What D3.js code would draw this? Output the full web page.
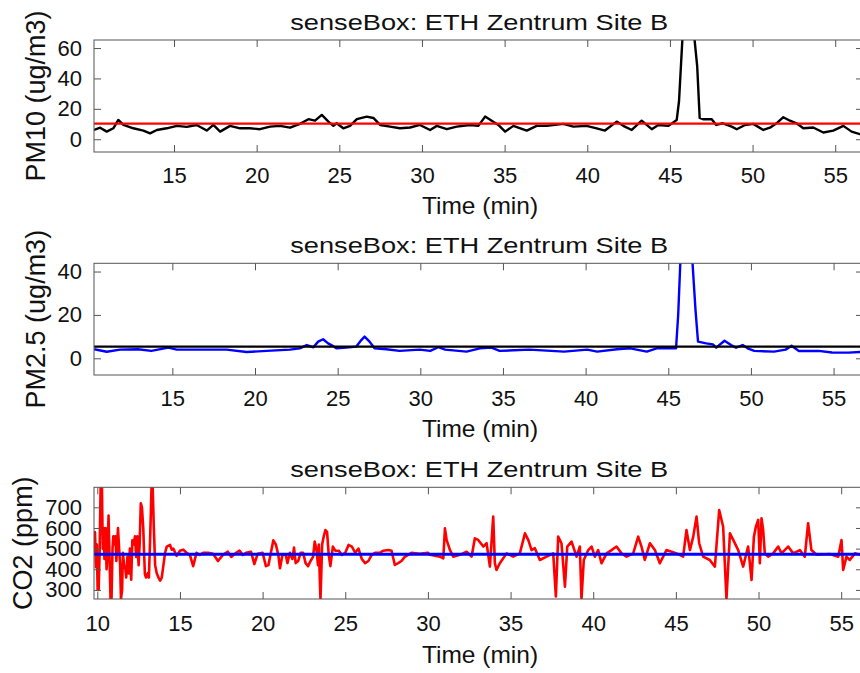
<!DOCTYPE html>
<html>
<head>
<meta charset="utf-8">
<script src="https://cdn.jsdelivr.net/npm/d3@7/dist/d3.min.js"></script>
<style>
  html, body { margin: 0; padding: 0; background: #fff; }
  svg { display: block; }
  text { font-family: Arial, "Liberation Sans", Helvetica, sans-serif; fill: #111; }
</style>
</head>
<body>
<svg id="chart" width="860" height="673"></svg>
<script>
// ---------------- DATA ----------------
const chartTitle = "senseBox: ETH Zentrum Site B";
const xLabel = "Time (min)";

// PM10 (ug/m3) — black line
const pm10Time = [10.16,10.53,10.93,11.33,11.63,11.94,12.54,13.15,13.55,13.96,14.56,15.17,15.77,16.37,16.98,17.38,17.79,18.39,19.0,19.6,20.2,20.81,21.41,22.02,22.62,23.13,23.53,23.94,24.34,24.64,24.84,25.24,25.65,26.06,26.66,27.06,27.47,28.07,28.67,29.28,29.88,30.49,30.9,31.5,32.1,32.91,33.41,33.82,34.22,34.62,35.03,35.53,36.34,36.94,37.55,38.55,39.16,39.96,40.57,41.07,41.78,42.18,42.69,43.29,43.9,44.3,44.91,45.41,45.55,45.8,46.1,46.45,46.65,46.8,47.0,47.53,47.8,48.2,48.74,49.04,49.54,50.04,50.65,51.05,51.45,51.86,52.26,52.66,53.07,53.67,54.28,54.88,55.49,55.99,56.5,56.7];
const pm10Values = [6.1,7.6,5.0,7.2,12.7,9.4,7.2,5.7,3.9,6.1,7.2,8.8,8.1,9.4,5.7,9.4,5.0,8.8,7.2,7.2,6.6,8.3,8.8,7.6,10.1,13.2,12.2,16.0,11.6,8.8,10.5,7.2,8.8,13.2,14.9,14.0,9.4,8.3,7.2,7.7,9.4,6.1,8.8,6.6,8.3,9.4,8.8,14.9,12.2,9.4,5.0,8.8,5.7,8.8,8.8,10.1,8.3,8.8,7.2,5.7,11.6,8.8,6.1,12.2,6.6,9.4,8.8,12.7,25,75,90,70,48,14,13.2,13.2,9.4,10.5,8.3,6.6,9.4,10.1,6.1,7.6,10.5,14.5,12.2,10.5,7.2,7.7,4.4,5.7,8.8,5.0,3.3,3.0];
const pm10Reference = 10.3;

// PM2.5 (ug/m3) — blue line
const pm25Time = [10.27,11.03,11.84,12.92,13.73,14.76,15.26,16.67,18.28,19.49,20.7,22.11,22.71,23.13,23.53,23.82,24.12,24.42,24.62,24.92,25.52,26.13,26.43,26.63,26.93,27.23,27.94,28.75,29.96,30.6,31.09,31.5,32.8,33.6,34.3,34.8,36.6,38.7,40.1,40.7,41.9,42.7,43.7,44.3,45.47,45.6,45.75,46.1,46.45,46.65,46.8,47.3,47.7,47.9,48.4,48.8,49.1,49.5,49.8,50.2,51.4,52.1,52.46,52.9,54.1,54.9,55.9,56.8];
const pm25Values = [4.2,3.0,4.0,4.2,3.4,4.9,4.0,4.0,4.0,2.9,3.4,4.0,4.6,6.1,5.1,7.7,8.8,6.9,6.1,4.6,4.9,5.4,8.4,10.0,7.7,4.6,4.2,3.4,4.0,3.4,5.1,4.0,3.1,4.6,4.9,3.4,4.0,3.1,4.0,3.1,4.2,4.6,3.1,4.6,4.6,20,48,55,46,22,7.7,6.9,6.4,4.9,8.1,6.1,4.9,6.1,4.6,3.4,3.1,4.0,5.8,3.4,3.4,2.7,2.6,3.0];
const pm25Reference = 5.4;

// CO2 (ppm) — red line
const co2Time = [9.82,9.86,9.92,9.97,10.02,10.08,10.14,10.2,10.28,10.33,10.38,10.43,10.5,10.56,10.62,10.68,10.75,10.8,10.86,10.92,10.97,11.05,11.1,11.15,11.2,11.25,11.32,11.38,11.43,11.5,11.55,11.62,11.7,11.75,11.82,11.9,11.97,12.05,12.12,12.2,12.28,12.35,12.42,12.5,12.56,12.63,12.7,12.78,12.83,12.88,12.95,13.05,13.12,13.2,13.28,13.35,13.42,13.5,13.6,13.7,13.8,13.9,14.0,14.1,14.2,14.4,14.5,14.6,14.8,15.0,15.2,15.4,15.6,15.8,16.0,16.2,16.4,16.7,17.0,17.3,17.6,17.9,18.1,18.4,18.6,18.8,19.0,19.3,19.5,19.7,20.0,20.2,20.35,20.5,20.65,20.8,20.95,21.05,21.2,21.4,21.5,21.65,21.8,21.9,22.0,22.15,22.3,22.45,22.6,22.75,22.9,23.05,23.15,23.25,23.35,23.4,23.45,23.5,23.55,23.6,23.7,23.8,23.9,24.0,24.1,24.25,24.4,24.6,24.8,25.0,25.2,25.4,25.6,25.8,26.0,26.2,26.4,26.6,26.8,27.1,27.3,27.6,27.8,28.0,28.2,28.4,28.6,28.8,29.0,29.5,30.0,30.12,30.72,30.93,31.03,31.13,31.33,31.53,31.93,32.34,32.64,32.84,33.04,33.35,33.55,33.75,33.95,34.05,34.15,34.35,34.76,35.16,35.56,35.87,36.07,36.27,36.47,36.77,37.18,37.58,37.74,37.88,38.08,38.29,38.43,38.69,38.99,39.19,39.29,39.43,39.7,39.9,40.1,40.3,40.5,40.81,41.11,41.41,41.71,42.02,42.42,42.72,42.92,43.12,43.43,43.73,44.03,44.43,45.04,45.44,45.64,45.85,46.05,46.25,46.41,46.65,47.05,47.36,47.62,47.86,48.06,48.27,48.47,48.77,49.07,49.37,49.58,49.72,49.84,49.98,50.08,50.18,50.28,50.38,50.58,50.89,51.19,51.39,51.79,52.1,52.5,52.8,53.0,53.2,53.51,54.31,54.82,55.02,55.12,55.32,55.52,55.83,56.13,56.32];
const co2Values = [480,580,410,520,300,300,480,797,797,500,600,450,600,400,480,660,420,256,256,500,560,520,560,440,520,600,500,420,256,300,480,420,400,360,460,380,500,350,540,520,560,460,560,420,520,720,700,600,480,375,360,380,360,560,797,797,600,420,380,360,345,360,420,480,510,518,495,500,465,490,495,480,470,415,480,470,480,480,475,440,470,485,460,480,490,470,480,485,425,475,480,415,420,480,540,520,470,405,470,470,430,480,450,505,430,440,480,480,430,415,440,460,534,500,420,520,380,256,380,520,560,590,580,470,415,510,490,490,470,480,518,510,480,500,450,430,440,470,480,480,490,493,490,421,430,440,460,470,480,475,480,470,461,453,598,542,494,461,470,485,461,550,542,510,526,413,655,429,397,429,477,461,477,574,542,493,502,445,461,477,268,558,526,316,510,534,461,510,256,445,493,510,461,493,429,477,493,510,477,461,477,558,510,445,526,493,429,493,477,461,590,493,558,655,526,461,445,413,687,606,256,574,542,493,413,510,348,558,606,639,429,647,590,477,461,477,510,477,510,477,493,461,623,493,470,474,461,542,397,461,445,477,470,465];
const co2Reference = 473;

// tick values
const xTicksPM = [15,20,25,30,35,40,45,50,55];
const xTicksCO2 = [10,15,20,25,30,35,40,45,50,55];
const yTicksPM10 = [0,20,40,60];
const yTicksPM25 = [0,20,40];
const yTicksCO2 = [300,400,500,600,700];

// ---------------- LAYOUT ----------------
const svg = d3.select("#chart");
svg.append("rect").attr("width",860).attr("height",673).attr("fill","#fff");

const boxLeft = 94, boxRight = 863;

const panels = [
  { top: 40, bottom: 152, xDom: [10.16, 56.68], yDom: [-8.4, 65.3],
    time: pm10Time, values: pm10Values, color: "#000", lw: 2.4,
    ref: pm10Reference, refColor: "#ff0000", refLw: 2.2,
    xTicks: xTicksPM, yTicks: yTicksPM10, yLabel: "PM10 (ug/m3)", yLabelX: 45,
    tickPad: 15, xLabelOff: 61.5 },
  { top: 263.3, bottom: 375, xDom: [10.26, 56.78], yDom: [-7.7, 43.8],
    time: pm25Time, values: pm25Values, color: "#0000ff", lw: 2.4,
    ref: pm25Reference, refColor: "#000", refLw: 2.2,
    xTicks: xTicksPM, yTicks: yTicksPM25, yLabel: "PM2.5 (ug/m3)", yLabelX: 45,
    tickPad: 15.5, xLabelOff: 61.7 },
  { top: 487.3, bottom: 599, xDom: [9.8, 56.32], yDom: [256, 797],
    time: co2Time, values: co2Values, color: "#ff0000", lw: 2.6,
    ref: co2Reference, refColor: "#0000ff", refLw: 3,
    xTicks: xTicksCO2, yTicks: yTicksCO2, yLabel: "CO2 (ppm)", yLabelX: 32,
    tickPad: 16.5, xLabelOff: 64 }
];

const axisColor = "#555";
const tickLen = 7;

panels.forEach((p, i) => {
  const x = d3.scaleLinear().domain(p.xDom).range([boxLeft, boxRight]);
  const y = d3.scaleLinear().domain(p.yDom).range([p.bottom, p.top]);
  const g = svg.append("g");

  const clipId = "clip" + i;
  svg.append("clipPath").attr("id", clipId)
    .append("rect").attr("x", boxLeft).attr("y", p.top)
    .attr("width", boxRight - boxLeft).attr("height", p.bottom - p.top);

  // data line
  const data = p.time.map((t, k) => [t, p.values[k]]);
  const line = d3.line().x(d => x(d[0])).y(d => y(d[1]));
  g.append("path").datum(data)
    .attr("clip-path", `url(#${clipId})`)
    .attr("d", line)
    .attr("fill", "none").attr("stroke", p.color)
    .attr("stroke-width", p.lw).attr("stroke-linejoin", "round");

  // reference line
  g.append("line")
    .attr("clip-path", `url(#${clipId})`)
    .attr("x1", x(p.xDom[0])).attr("x2", x(p.xDom[1]))
    .attr("y1", y(p.ref)).attr("y2", y(p.ref))
    .attr("stroke", p.refColor).attr("stroke-width", p.refLw);

  // axes
  const styleAxis = sel => {
    sel.select(".domain").remove();
    sel.selectAll(".tick line").attr("stroke", axisColor).attr("stroke-width", 1);
    sel.selectAll(".tick text").attr("fill", "#111")
      .style("font-family", "Arial, 'Liberation Sans', Helvetica, sans-serif")
      .style("font-size", "22px");
  };
  g.append("g").attr("transform", `translate(0,${p.bottom})`)
    .call(d3.axisBottom(x).tickValues(p.xTicks).tickFormat(d3.format("d"))
      .tickSizeInner(-tickLen).tickSizeOuter(0).tickPadding(p.tickPad))
    .call(styleAxis);
  g.append("g").attr("transform", `translate(0,${p.top})`)
    .call(d3.axisTop(x).tickValues(p.xTicks).tickFormat("")
      .tickSizeInner(-tickLen).tickSizeOuter(0))
    .call(styleAxis);
  g.append("g").attr("transform", `translate(${boxLeft},0)`)
    .call(d3.axisLeft(y).tickValues(p.yTicks).tickFormat(d3.format("d"))
      .tickSizeInner(-tickLen).tickSizeOuter(0).tickPadding(12))
    .call(styleAxis);
  g.append("g").attr("transform", `translate(${boxRight},0)`)
    .call(d3.axisRight(y).tickValues(p.yTicks).tickFormat("")
      .tickSizeInner(-tickLen).tickSizeOuter(0))
    .call(styleAxis);

  // box
  g.append("rect")
    .attr("x", boxLeft).attr("y", p.top)
    .attr("width", boxRight - boxLeft).attr("height", p.bottom - p.top)
    .attr("fill", "none").attr("stroke", axisColor).attr("stroke-width", 1);

  // title
  g.append("text")
    .attr("x", 479.2).attr("y", p.top - 10.5)
    .attr("text-anchor", "middle")
    .attr("textLength", 378).attr("lengthAdjust", "spacingAndGlyphs")
    .style("font-size", "22.5px")
    .text(chartTitle);

  // x label
  g.append("text")
    .attr("x", 480).attr("y", p.bottom + p.xLabelOff)
    .attr("text-anchor", "middle")
    .style("font-size", "24.5px")
    .text(xLabel);

  // y label
  g.append("text")
    .attr("transform", `translate(${p.yLabelX},${(p.top + p.bottom) / 2}) rotate(-90)`)
    .attr("text-anchor", "middle")
    .style("font-size", "27px")
    .text(p.yLabel);
});
</script>
</body>
</html>
